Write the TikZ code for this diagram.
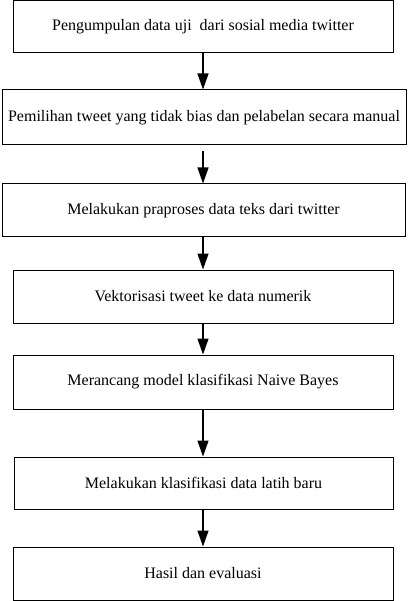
\documentclass[tikz,border=0pt]{standalone}
\usepackage{fontspec}
\setmainfont{Liberation Serif}
\usetikzlibrary{arrows.meta}
\begin{document}
\begin{tikzpicture}[x=1pt,y=-1pt,
  stepbox/.style={draw,line width=1pt,inner sep=0pt,font=\fontsize{16}{19}\selectfont},
  flow/.style={line width=1.3pt,-{Triangle[width=11pt,length=16pt]}}]
\useasboundingbox (0,0) rectangle (407,601);
\node[stepbox,minimum width=380pt,minimum height=52pt] (b1) at (203,27) {Pengumpulan data uji~ dari sosial media twitter};
\node[stepbox,minimum width=404pt,minimum height=55pt] (b2) at (204,117.5) {Pemilihan tweet yang tidak bias dan pelabelan secara manual};
\node[stepbox,minimum width=403pt,minimum height=53pt] (b3) at (203.5,210.5) {Melakukan praproses data teks dari twitter};
\node[stepbox,minimum width=380pt,minimum height=53pt] (b4) at (203,296.5) {Vektorisasi tweet ke data numerik};
\node[stepbox,minimum width=380pt,minimum height=54pt] (b5) at (203,382) {Merancang model klasifikasi Naive Bayes};
\node[stepbox,minimum width=379pt,minimum height=52pt] (b6) at (203.5,483) {Melakukan klasifikasi data latih baru};
\node[stepbox,minimum width=380pt,minimum height=53pt] (b7) at (203,573.5) {Hasil dan evaluasi};
\draw[flow] (b1.south) -- (b1.south |- b2.north);
\draw[flow,shorten <=6pt] (b2.south -| b1.south) -- (b1.south |- b3.north);
\draw[flow] (b3.south -| b1.south) -- (b1.south |- b4.north);
\draw[flow] (b4.south) -- (b4.south |- b5.north);
\draw[flow] (b5.south) -- (b5.south |- b6.north);
\draw[flow] (b6.south -| b1.south) -- (b1.south |- b7.north);
\end{tikzpicture}
\end{document}
